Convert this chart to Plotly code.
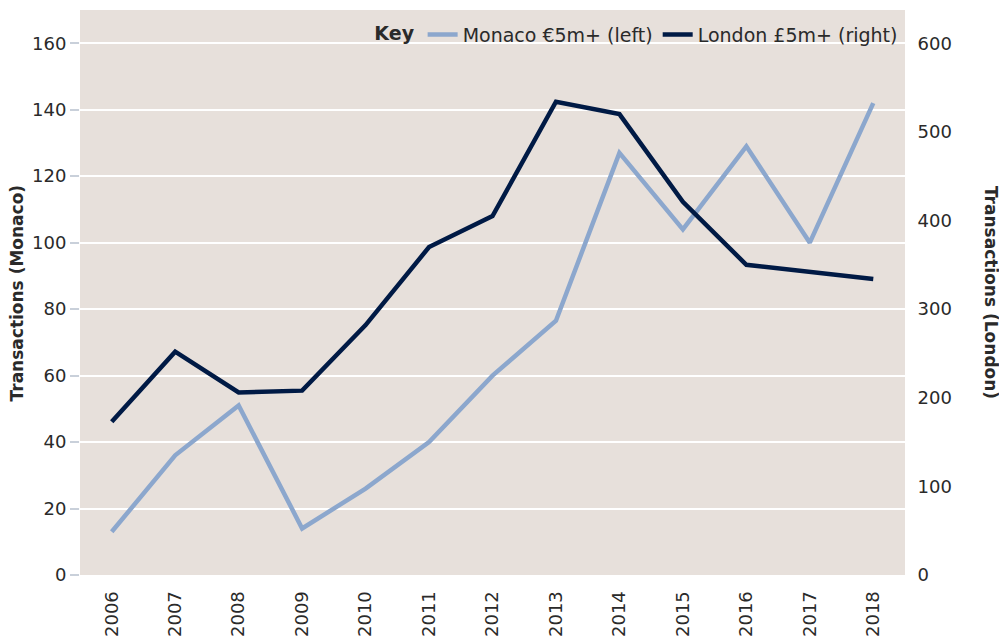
import plotly.graph_objects as go

years = ["2006", "2007", "2008", "2009", "2010", "2011", "2012",
         "2013", "2014", "2015", "2016", "2017", "2018"]
monaco = [13, 36, 51, 14, 26, 40, 60, 76.5, 127, 104, 129, 100, 142]
london = [173, 252, 206, 208, 282, 370, 405, 534, 520, 421, 350, 342, 334]

left_ticks = [0, 20, 40, 60, 80, 100, 120, 140, 160]
right_ticks = [0, 100, 200, 300, 400, 500, 600]

FONT = "DejaVu Sans"
TXT = "#2a2a2a"
FS = 18

fig = go.Figure()
fig.add_trace(go.Scatter(
    x=years, y=monaco, name="Monaco €5m+ (left)", mode="lines",
    line=dict(color="#8ca7cd", width=4.5), yaxis="y"))
fig.add_trace(go.Scatter(
    x=years, y=london, name="London £5m+ (right)", mode="lines",
    line=dict(color="#001a45", width=4.5), yaxis="y2"))

fig.update_layout(
    width=999, height=635,
    margin=dict(l=72, r=102, t=2, b=68),
    paper_bgcolor="white",
    plot_bgcolor="#e7e0db",
    font=dict(family=FONT, size=FS, color=TXT),
    showlegend=True,
    legend=dict(
        orientation="h", x=0.998, xanchor="right", y=0.99, yanchor="top",
        bgcolor="rgba(0,0,0,0)", itemwidth=30,
        title=dict(text="<b>Key</b>", side="left", font=dict(size=19, color=TXT)),
        font=dict(size=19, color=TXT)),
    xaxis=dict(
        type="category", range=[-0.5, 12.5], tickangle=-90, showgrid=False,
        ticks="outside", ticklen=8, tickcolor="rgba(0,0,0,0)",
        tickfont=dict(size=FS, color=TXT), showline=False, zeroline=False),
    yaxis=dict(
        range=[0, 170], tickvals=left_ticks, showgrid=True,
        gridcolor="white", gridwidth=1.5, zeroline=False,
        ticks="outside", ticklen=9, tickcolor="#c9d0da", tickwidth=1.5,
        tickfont=dict(size=FS, color=TXT)),
    yaxis2=dict(
        range=[0, 637.5], tickvals=right_ticks, overlaying="y", side="right",
        showgrid=False, zeroline=False, ticks="outside", ticklen=8,
        tickcolor="rgba(0,0,0,0)", tickfont=dict(size=FS, color=TXT)),
    annotations=[
        dict(text="<b>Transactions (Monaco)</b>", textangle=-90,
             xref="paper", yref="paper", x=-0.0764, y=0.5,
             xanchor="center", yanchor="middle", showarrow=False,
             font=dict(size=FS - 1, color=TXT)),
        dict(text="<b>Transactions (London)</b>", textangle=90,
             xref="paper", yref="paper", x=1.105, y=0.5,
             xanchor="center", yanchor="middle", showarrow=False,
             font=dict(size=FS - 1, color=TXT)),
    ],
)

fig.write_html("out.html")
